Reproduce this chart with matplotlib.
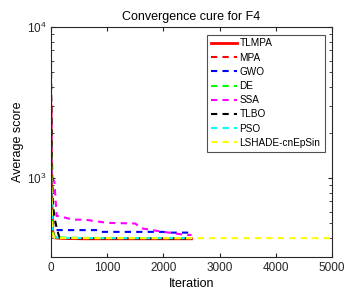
import matplotlib
matplotlib.use("Agg")
import matplotlib.pyplot as plt
from matplotlib.ticker import LogLocator, NullFormatter

# Data (iteration breakpoints, average score)
tlmpa_x = [0, 5, 15, 30, 60, 200, 600, 1200, 2500]
tlmpa_y = [3000, 1500, 700, 450, 402, 398, 396, 396, 396]
mpa_x = [0, 5, 15, 30, 60, 200, 600, 1200, 2500]
mpa_y = [3500, 1800, 800, 480, 405, 400, 399, 399, 398]
gwo_x = [0, 5, 15, 40, 60, 850, 900, 2000, 2100, 2500]
gwo_y = [2500, 1500, 800, 470, 452, 452, 440, 440, 435, 435]
de_x = [0, 5, 15, 30, 60, 300, 1000, 2500]
de_y = [1500, 900, 600, 450, 405, 402, 401, 400]
ssa_x = [0, 5, 10, 60, 100, 130, 400, 600, 1000, 1500, 1600, 2000, 2400, 2500]
ssa_y = [4000, 2000, 1000, 950, 560, 560, 530, 530, 505, 500, 465, 440, 420, 420]
tlbo_x = [0, 5, 15, 30, 60, 100, 150, 400, 2500]
tlbo_y = [6000, 3000, 1500, 700, 550, 470, 402, 399, 398]
pso_x = [0, 5, 15, 30, 60, 200, 1000, 2500]
pso_y = [2000, 1000, 600, 440, 405, 401, 400, 400]
lshade_x = [0, 5, 15, 30, 60, 200, 1000, 5000]
lshade_y = [2500, 1200, 600, 430, 401, 400, 400, 400]

names = ["TLMPA", "MPA", "GWO", "DE", "SSA", "TLBO", "PSO", "LSHADE-cnEpSin"]
colors = ["#ff0000", "#ff0000", "#0000ff", "#00ff00", "#ff00ff", "#000000", "#00ffff", "#ffff00"]
xs = [tlmpa_x, mpa_x, gwo_x, de_x, ssa_x, tlbo_x, pso_x, lshade_x]
ys = [tlmpa_y, mpa_y, gwo_y, de_y, ssa_y, tlbo_y, pso_y, lshade_y]

plt.rcParams['font.family'] = ['Liberation Sans', 'DejaVu Sans']
fig = plt.figure(figsize=(3.52, 2.97), dpi=100)
ax = fig.add_axes([51/352, 1-257/297, (332-51)/352, (257-27)/297])

for i, (n, c, x, y) in enumerate(zip(names, colors, xs, ys)):
    if i == 0:
        ax.plot(x, y, color=c, lw=2.0, ls='-', label=n)
    else:
        ax.plot(x, y, color=c, lw=1.5, ls=(0, (3, 2.5)), label=n)

ax.set_yscale('log')
ax.set_xlim(0, 5000)
ax.set_ylim(300, 1e4)
ax.set_xticks([0, 1000, 2000, 3000, 4000, 5000])
ax.yaxis.set_major_locator(LogLocator(base=10, numticks=10))
ax.yaxis.set_minor_locator(LogLocator(base=10, subs=range(2, 10), numticks=10))
ax.yaxis.set_minor_formatter(NullFormatter())
ax.tick_params(direction='in', which='both', top=True, right=True, labelsize=8.5, color='#262626', labelcolor='#262626')
ax.tick_params(which='major', length=3)
ax.tick_params(which='minor', length=2)
for s in ax.spines.values():
    s.set_color('#262626')
    s.set_linewidth(0.8)
ax.set_title("Convergence cure for F4", fontsize=9, pad=5)
ax.set_xlabel("Iteration", fontsize=9, labelpad=3)
ax.set_ylabel("Average score", fontsize=9, labelpad=2)
leg = ax.legend(loc='upper right', fontsize=7.2, frameon=True, fancybox=False, edgecolor='#262626',
                handlelength=2.6, handletextpad=0.25, borderpad=0.4, labelspacing=0.42,
                borderaxespad=0.75)
leg.get_frame().set_linewidth(0.8)
fig.savefig("out.png", dpi=100)
